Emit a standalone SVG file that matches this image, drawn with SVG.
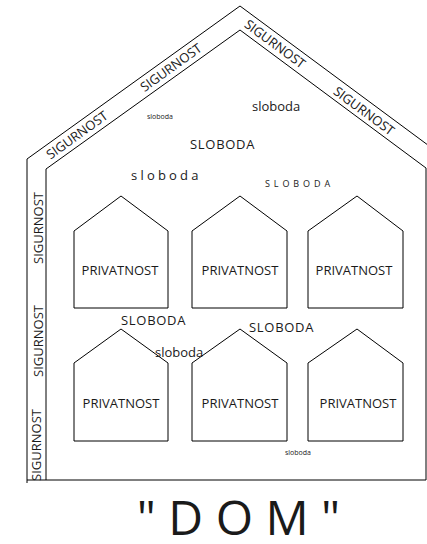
<svg xmlns="http://www.w3.org/2000/svg" width="427" height="544" viewBox="0 0 427 544">
<style>
.ln{fill:none;stroke:#000;stroke-width:1}
.hs{fill:#fff;stroke:#000;stroke-width:1}
text{font-family:"Open Sans","Noto Sans","DejaVu Sans",sans-serif;fill:#1a1a1a}
.t13{font-size:13px}
.mid{text-anchor:middle}
</style>
<rect width="427" height="544" fill="#fff"/>
<g id="dom-outer">
<polyline class="ln" points="27,483 27,159 240,6 440,154"/>
<polyline class="ln" points="46,480 46,169 240,30 426,168 426,480 27,480"/>
</g>
<g id="sigurnost-labels" class="t13">
<text class="t13 mid" transform="translate(77,135) rotate(-35.7)" y="4.6">SIGURNOST</text>
<text class="t13 mid" transform="translate(171,67.5) rotate(-35.7)" y="4.6">SIGURNOST</text>
<text class="t13 mid" transform="translate(275,44) rotate(36.6)" y="4.6">SIGURNOST</text>
<text class="t13 mid" transform="translate(364,111) rotate(36.6)" y="4.6">SIGURNOST</text>
<text class="t13 mid" transform="translate(38,228) rotate(-90)" y="4.6">SIGURNOST</text>
<text class="t13 mid" transform="translate(38,341) rotate(-90)" y="4.6">SIGURNOST</text>
<text class="t13 mid" transform="translate(36,445) rotate(-90)" y="4.6">SIGURNOST</text>
</g>
<g id="sloboda-labels">
<text x="147" y="119" style="font-size:7px">sloboda</text>
<text class="t13" x="252" y="111">sloboda</text>
<text class="t13" x="190" y="149" style="letter-spacing:0.7px">SLOBODA</text>
<text class="t13" x="131" y="180" style="letter-spacing:3.2px">sloboda</text>
<text x="265" y="187" style="font-size:9px;letter-spacing:3.9px">SLOBODA</text>
</g>
<g id="house-1-1"><polygon class="hs" points="121,196 74,231 74,308 168,308 168,231"/><text class="t13 mid" x="120" y="275">PRIVATNOST</text></g>
<g id="house-1-2"><polygon class="hs" points="240,196 192,231 192,308 287,308 287,231"/><text class="t13 mid" x="240" y="275">PRIVATNOST</text></g>
<g id="house-1-3"><polygon class="hs" points="357,196 308,231 308,308 403,308 403,231"/><text class="t13 mid" x="354" y="275">PRIVATNOST</text></g>
<g id="house-2-1"><polygon class="hs" points="121,329 74,363 74,441 168,441 168,363"/><text class="t13 mid" x="121" y="408">PRIVATNOST</text></g>
<g id="house-2-2"><polygon class="hs" points="240,329 192,363 192,441 287,441 287,363"/><text class="t13 mid" x="240" y="408">PRIVATNOST</text></g>
<g id="house-2-3"><polygon class="hs" points="357,329 308,363 308,441 403,441 403,363"/><text class="t13 mid" x="358" y="408">PRIVATNOST</text></g>
<g id="between-labels">
<text class="t13" x="121" y="325" style="letter-spacing:0.7px">SLOBODA</text>
<text class="t13" x="155" y="357">sloboda</text>
<text class="t13" x="249" y="332" style="letter-spacing:0.7px">SLOBODA</text>
<text x="285" y="455" style="font-size:7px">sloboda</text>
</g>
<g id="title"><text class="mid" x="238.5" y="535" style="font-size:48px">" D O M "</text></g>
</svg>
